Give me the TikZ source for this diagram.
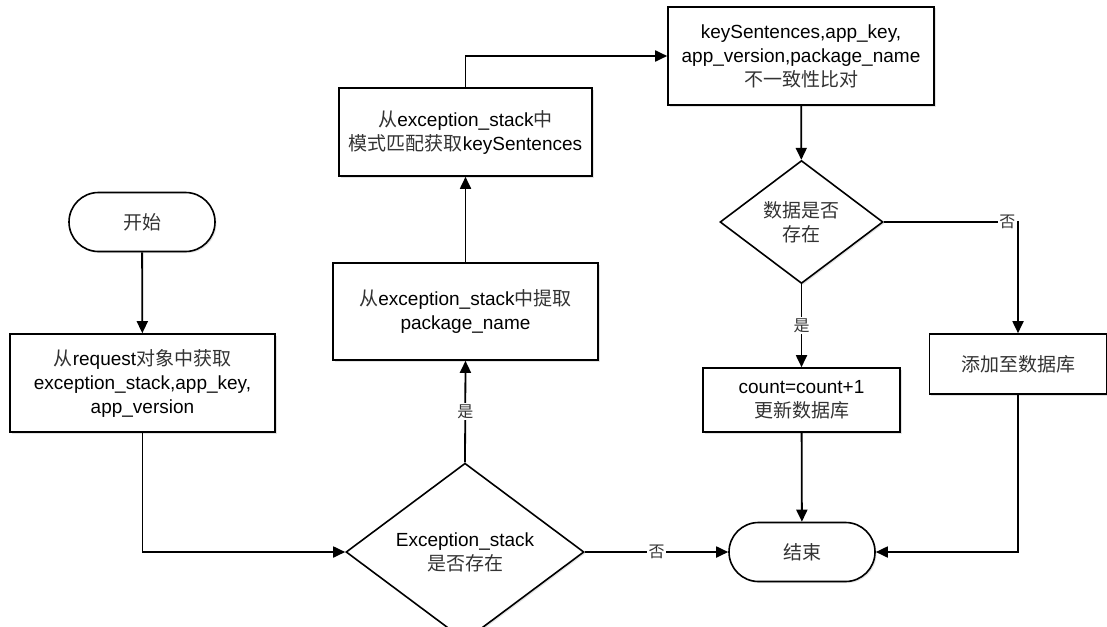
\documentclass[tikz,border=0pt]{standalone}
\usepackage{fontspec}
\setmainfont{Liberation Sans}
\newfontfamily\cjk{Noto Sans CJK SC}
\newcommand\zh[1]{{\cjk\color{black!80}#1}}
\usetikzlibrary{arrows.meta,shapes.geometric,shapes.misc,shadows}

\begin{document}
\begin{tikzpicture}[x=1pt,y=-1pt,
  txt/.style={font=\fontsize{19}{24}\selectfont},
  base/.style={txt, draw, line width=1.6pt, fill=white, align=center, inner sep=2pt,
    drop shadow={shadow xshift=1.5pt,shadow yshift=-1.5pt,opacity=0.22}},
  procbox/.style={base, rectangle},
  termbox/.style={base, rounded rectangle, minimum width=150pt, minimum height=59pt},
  decbox/.style={base, diamond, inner sep=0pt},
  flow/.style={line width=1.8pt, -{Triangle[length=12pt,width=11pt]}},
  lab/.style={font=\fontsize{16}{18}\selectfont, fill=white, inner sep=1.5pt}
]
\useasboundingbox (0,0) rectangle (1107,626);

% nodes
\node[termbox] (start) at (142,222) {\zh{开始}};
\node[procbox, minimum width=265pt, minimum height=98pt] (get) at (142.5,383)
  {\zh{从}request\zh{对象中获取}\\exception\_stack,app\_key,\\app\_version};
\node[decbox, minimum width=238pt, minimum height=146pt] (exist) at (465,552)
  {Exception\_stack\\\zh{是否存在}};
\node[procbox, minimum width=265pt, minimum height=97pt] (pkg) at (465.5,311.5)
  {\zh{从}exception\_stack\zh{中提取}\\package\_name};
\node[procbox, minimum width=253pt, minimum height=88pt] (ks) at (465.5,132)
  {\zh{从}exception\_stack\zh{中}\\\zh{模式匹配获取}keySentences};
\node[procbox, minimum width=266pt, minimum height=98pt] (cmp) at (801,56)
  {keySentences,app\_key,\\app\_version,package\_name\\\zh{不一致性比对}};
\node[decbox, minimum width=163pt, minimum height=123pt] (data) at (801.5,222)
  {\zh{数据是否}\\\zh{存在}};
\node[procbox, minimum width=197pt, minimum height=64pt] (upd) at (801.5,400)
  {count=count+1\\\zh{更新数据库}};
\node[procbox, minimum width=177pt, minimum height=60pt] (add) at (1018,364)
  {\zh{添加至数据库}};
\node[termbox] (stop) at (802,552) {\zh{结束}};

% connectors
\draw[flow] (start) -- (get);
\draw[flow] (get.south) |- (exist.west);
\draw[flow] (exist.east) -- node[lab, pos=0.5] {\zh{否}} (stop.west);
\draw[flow] (exist.north) -- node[lab, pos=0.5] {\zh{是}} (pkg.south);
\draw[flow] (pkg) -- (ks);
\draw[flow] (ks.north) |- (cmp.west);
\draw[flow] (cmp) -- (data);
\draw[flow] (data.south) -- node[lab, pos=0.5] {\zh{是}} (upd.north);
\draw[flow] (data.east) -| node[lab, pos=0.46] {\zh{否}} (add.north);
\draw[flow] (upd) -- (stop);
\draw[flow] (add.south) |- (stop.east);
\end{tikzpicture}
\end{document}
